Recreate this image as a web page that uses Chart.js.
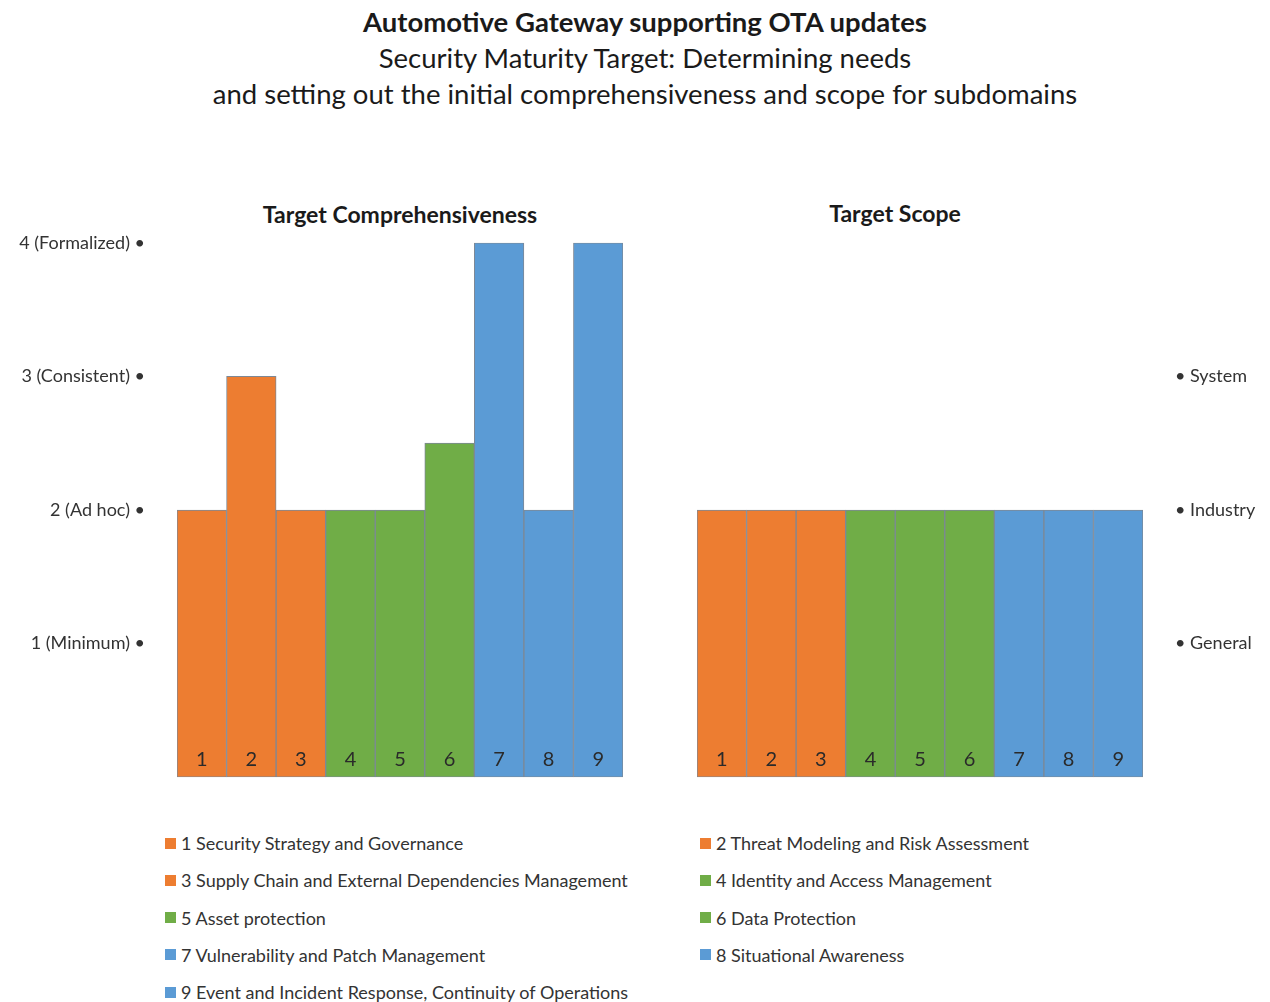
<!DOCTYPE html>
<html>
<head>
<meta charset="utf-8">
<script src="https://cdn.jsdelivr.net/npm/chart.js@4.4.1/dist/chart.umd.min.js"></script>
<style>
  html, body { margin: 0; padding: 0; background: #fff; }
  body { width: 1270px; height: 1002px; position: relative; overflow: hidden; font-family: Lato, "Open Sans", sans-serif; color: #1a1a1a; }
  .head { position: absolute; left: 10px; width: 1270px; text-align: center; white-space: nowrap; font-size: 27.5px; line-height: 33px; }
  .panel-title { position: absolute; font-weight: bold; font-size: 23px; line-height: 28px; transform: translateX(-50%); white-space: nowrap; }
  canvas { position: absolute; }
  #legend { position: absolute; left: 165px; top: 831px; display: grid; grid-template-columns: 535px 500px; grid-auto-rows: 37.3px; font-size: 18px; color: #333; }
  #legend .item { display: flex; align-items: center; height: 24px; white-space: nowrap; }
  #legend .box { width: 11px; height: 11px; margin-right: 5px; }
</style>
</head>
<body>
<div class="head" style="top:5px;font-weight:bold;">Automotive Gateway supporting OTA updates</div>
<div class="head" style="top:41px;">Security Maturity Target: Determining needs</div>
<div class="head" style="top:77px;">and setting out the initial comprehensiveness and scope for subdomains</div>

<div class="panel-title" style="left:400px;top:200px;">Target Comprehensiveness</div>
<div class="panel-title" style="left:895px;top:199px;">Target Scope</div>

<canvas id="compChart"></canvas>
<canvas id="scopeChart"></canvas>
<div id="legend"></div>

<script>
// Subdomains (bar numbers) and their names
const subdomains = ['1', '2', '3', '4', '5', '6', '7', '8', '9'];
const subdomainNames = [
  'Security Strategy and Governance',
  'Threat Modeling and Risk Assessment',
  'Supply Chain and External Dependencies Management',
  'Identity and Access Management',
  'Asset protection',
  'Data Protection',
  'Vulnerability and Patch Management',
  'Situational Awareness',
  'Event and Incident Response, Continuity of Operations'
];

// Target values
const comprehensiveness = [2, 3, 2, 2, 2, 2.5, 4, 2, 4];
const scope = [2, 2, 2, 2, 2, 2, 2, 2, 2];

// Axis tick labels (index = value)
const comprehensivenessLevels = ['', '1 (Minimum)', '2 (Ad hoc)', '3 (Consistent)', '4 (Formalized)'];
const scopeLevels = ['', 'General', 'Industry', 'System', ''];

// Colours per subdomain group
const orange = '#ED7D31';
const green = '#70AD47';
const blue = '#5B9BD5';
const barColors = [orange, orange, orange, green, green, green, blue, blue, blue];

// Number written at the foot of each bar
const barNumbers = {
  id: 'barNumbers',
  afterDatasetsDraw(chart) {
    const ctx = chart.ctx;
    const meta = chart.getDatasetMeta(0);
    ctx.save();
    ctx.font = '20px Lato, "Open Sans", sans-serif';
    ctx.fillStyle = '#2a2a2a';
    ctx.textAlign = 'center';
    ctx.textBaseline = 'middle';
    meta.data.forEach((bar, i) => {
      ctx.fillText(chart.data.labels[i], bar.x, chart.chartArea.bottom - 18);
    });
    ctx.restore();
  }
};

function makeChart(id, box, values, levels, side, axisWidth, padding) {
  const canvas = document.getElementById(id);
  canvas.style.left = box.left + 'px';
  canvas.style.top = box.top + 'px';
  canvas.style.width = box.width + 'px';
  canvas.style.height = box.height + 'px';
  canvas.width = box.width;
  canvas.height = box.height;

  return new Chart(canvas, {
    type: 'bar',
    data: {
      labels: subdomains,
      datasets: [{
        data: values,
        backgroundColor: barColors,
        borderColor: '#7d8896',
        borderWidth: 1,
        borderSkipped: false,
        barPercentage: 1,
        categoryPercentage: 1
      }]
    },
    options: {
      responsive: false,
      animation: false,
      layout: { padding },
      plugins: {
        legend: { display: false },
        tooltip: { enabled: false }
      },
      scales: {
        x: { display: false },
        y: {
          position: side,
          min: 0,
          max: 4,
          grid: { display: false },
          border: { display: false },
          afterFit: scale => { scale.width = axisWidth; },
          ticks: {
            stepSize: 1,
            padding: 24,
            color: '#333',
            font: { family: 'Lato, "Open Sans", sans-serif', size: 18 },
            callback: value => {
              const label = levels[value];
              if (!label) return '';
              return side === 'left' ? label + ' \u2022' : '\u2022 ' + label;
            }
          }
        }
      }
    },
    plugins: [barNumbers]
  });
}

makeChart('compChart', { left: 0, top: 208, width: 630, height: 604 },
  comprehensiveness, comprehensivenessLevels, 'left', 177,
  { top: 0, bottom: 0, left: 0, right: 7 });

makeChart('scopeChart', { left: 696, top: 208, width: 574, height: 604 },
  scope, scopeLevels, 'right', 127,
  { top: 0, bottom: 0, left: 1, right: 0 });

// Legend, two columns, built from the subdomain list
const legend = document.getElementById('legend');
subdomainNames.forEach((name, i) => {
  const item = document.createElement('div');
  item.className = 'item';
  const box = document.createElement('span');
  box.className = 'box';
  box.style.background = barColors[i];
  const text = document.createElement('span');
  text.textContent = subdomains[i] + ' ' + name;
  item.appendChild(box);
  item.appendChild(text);
  legend.appendChild(item);
});
</script>
</body>
</html>
